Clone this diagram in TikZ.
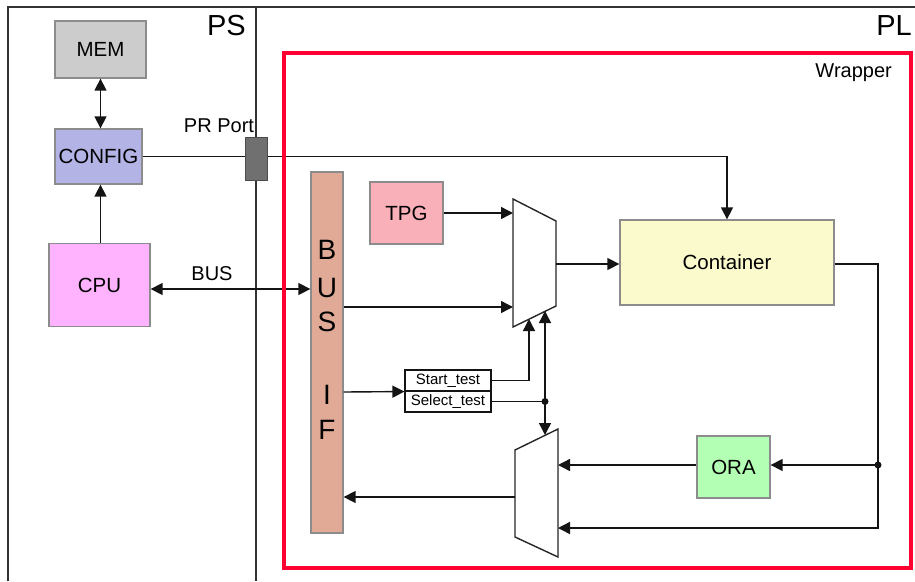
\documentclass[tikz,border=0pt]{standalone}
\usepackage{fontspec}
\setmainfont{Liberation Sans}
\usetikzlibrary{arrows.meta}
\definecolor{memc}{RGB}{204,204,204}
\definecolor{cfgc}{RGB}{179,179,230}
\definecolor{cpuc}{RGB}{255,179,255}
\definecolor{prc}{RGB}{112,112,112}
\definecolor{wrapc}{RGB}{255,0,51}
\definecolor{busc}{RGB}{224,170,150}
\definecolor{tpgc}{RGB}{250,176,184}
\definecolor{contc}{RGB}{250,250,204}
\definecolor{orac}{RGB}{179,255,179}
\definecolor{bordc}{RGB}{140,140,140}
\definecolor{linec}{RGB}{20,20,20}
\begin{document}
\begin{tikzpicture}[x=1pt,y=-1pt,
  box/.style={draw=bordc, line width=1.3pt, inner sep=0pt, font=\fontsize{20.5}{24}\selectfont},
  lbl/.style={inner sep=0pt, font=\fontsize{20}{24}\selectfont},
  big/.style={inner sep=0pt, font=\fontsize{29}{33}\selectfont},
  letter/.style={inner sep=0pt, font=\fontsize{28}{32}\selectfont},
  small/.style={draw=linec, line width=1.1pt, inner sep=0pt, minimum width=86pt, minimum height=21pt, font=\fontsize{15}{17}\selectfont},
  wire/.style={draw=linec, line width=1.4pt},
  arr/.style={wire, -{Triangle[length=12pt,width=12pt]}},
  darr/.style={wire, {Triangle[length=12pt,width=12pt]}-{Triangle[length=12pt,width=12pt]}},
  frame/.style={draw=black!80, line width=1.3pt},
  muxs/.style={draw=black!85, line width=1.4pt, fill=white},
  dot/.style={circle, fill=linec, inner sep=0pt, minimum size=7pt}
]
\useasboundingbox (0,0) rectangle (915,581);
% frame
\draw[frame] (8,581) -- (8,7) -- (915,7);
\draw[frame] (256,7) -- (256,581);
\node[big, anchor=east] (ps) at (246,26) {PS};
\node[big, anchor=east] (pl) at (912,26) {PL};

% PS boxes
\node[box, fill=memc, minimum width=91pt, minimum height=57pt] (mem) at (100.5,49.5) {MEM};
\node[box, fill=cfgc, minimum width=87pt, minimum height=55pt] (config) at (98.5,156.5) {CONFIG};
\node[box, fill=cpuc, minimum width=101pt, minimum height=83pt] (cpu) at (99.5,285) {CPU};
\node[lbl] (prlbl) at (219,126) {PR Port};
\node[lbl] (buslbl) at (212,274) {BUS};

% PL boxes
\node[box, fill=busc, minimum width=32pt, minimum height=361pt] (busif) at (327,352.5) {};
\node[letter] (b1) at (327,250) {B};
\node[letter] (b2) at (327,288) {U};
\node[letter] (b3) at (327,322) {S};
\node[letter] (b4) at (327,395) {I};
\node[letter] (b5) at (327,430) {F};
\node[box, fill=tpgc, minimum width=73pt, minimum height=62pt] (tpg) at (406.5,213) {TPG};
\node[box, fill=contc, minimum width=214pt, minimum height=85pt] (cont) at (727,262.5) {Container};
\node[box, fill=orac, minimum width=73pt, minimum height=62pt] (ora) at (733.5,467) {ORA};
\node[small] (start) at (448,380.5) {Start\_test};
\node[small] (select) at (448,401.5) {Select\_test};

% muxes
\coordinate (m1a) at (513,199);
\coordinate (m1b) at (556,221);
\coordinate (m1c) at (556,306);
\coordinate (m1d) at (513,327);
\draw[muxs] (m1a) -- (m1b) -- (m1c) -- (m1d) -- cycle;
\coordinate (m2a) at (515,450);
\coordinate (m2b) at (558,429);
\coordinate (m2c) at (558,557);
\coordinate (m2d) at (515,537);
\draw[muxs] (m2a) -- (m2b) -- (m2c) -- (m2d) -- cycle;

% connectors
\draw[darr] (mem.south) -- (mem.south |- config.north);
\draw[arr] (cpu.north -| mem.south) -- (mem.south |- config.south);
\coordinate (ybus) at (0,289);
\draw[darr] (cpu.east |- ybus) -- (busif.west |- ybus);
\draw[arr] (config.east) -| (cont.north);
\draw[arr] (tpg.east) -- (tpg.east -| m1a);
\coordinate (ybin) at (0,307);
\draw[arr] (busif.east |- ybin) -- (m1a |- ybin);
\draw[arr] (m1b |- 0,264) -- (cont.west |- 0,264);
\coordinate (fb) at (878,528);
\coordinate (jn) at (878,465);
\draw[arr] (cont.east |- 0,264) -- (878,264) -- (fb) -- (m2b |- fb);
\draw[arr] (jn) -- (ora.east |- jn);
\draw[arr] (ora.west |- jn) -- (m2b |- jn);
\node[dot] (jdot) at (jn) {};
\draw[arr] (m2a |- 0,497) -- (busif.east |- 0,497);
\draw[arr] (busif.east |- 0,392) -- (start.south west);
\coordinate (st) at (529,319);
\draw[arr] (start.east) -| (st);
\coordinate (sj) at (545,401.5);
\draw[wire] (select.east) -- (sj);
\coordinate (sa) at (545,311);
\coordinate (sb) at (545,435);
\draw[darr] (sa) -- (sb);
\node[dot] (sdot) at (sj) {};

% wrapper and port on top
\draw[draw=wrapc, line width=4pt] (284,53) rectangle (911,568);
\node[lbl, anchor=east] (wraplbl) at (892,73) {Wrapper};
\node[draw=black!70, fill=prc, line width=1pt, minimum width=22pt, minimum height=43pt, inner sep=0pt] (prport) at (256,158.5) {};
\end{tikzpicture}
\end{document}
